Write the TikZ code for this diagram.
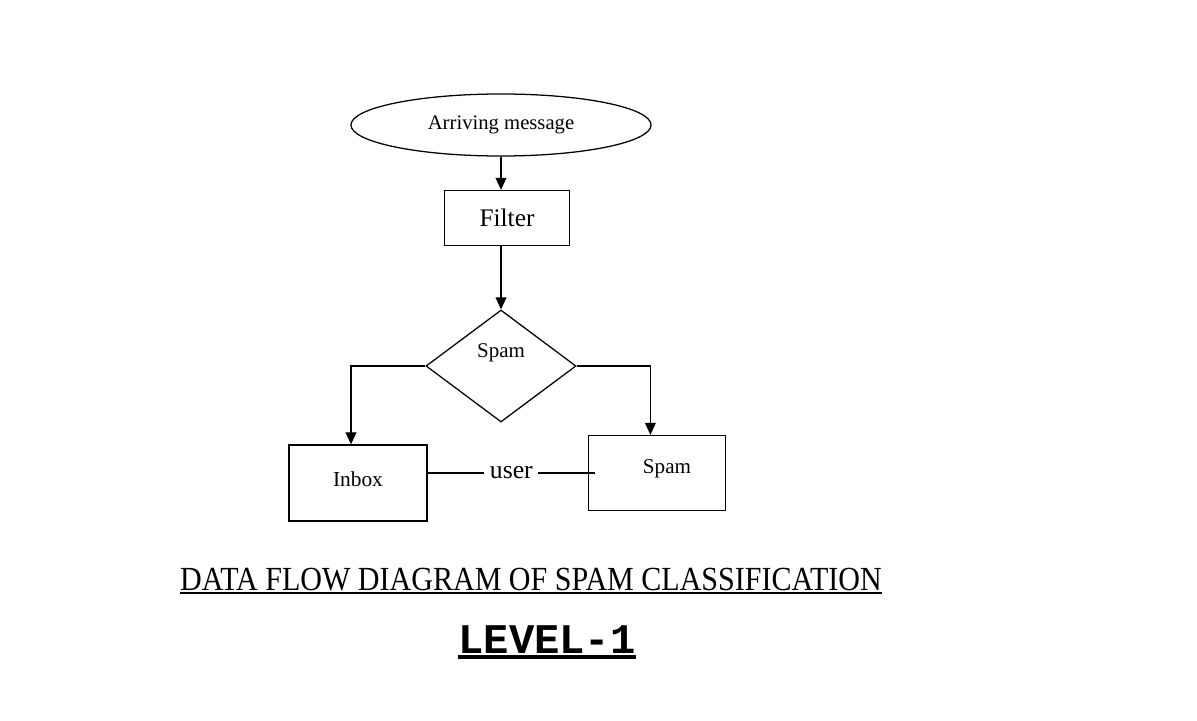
\documentclass[tikz,border=0pt]{standalone}
\usepackage{fontspec}
\setmainfont{Liberation Serif}
\newfontfamily\levelfont{Liberation Mono}
\usetikzlibrary{positioning,shapes.geometric,arrows.meta}

\begin{document}
\begin{tikzpicture}[x=0.025cm, y=-0.025cm, line width=0.9pt,
  -{Triangle[length=0.3cm,width=0.27cm]},
  box/.style={draw, rectangle, inner sep=0pt},
  msgbox/.style={draw, ellipse, minimum width=7.5cm, minimum height=1.55cm,
    font=\fontsize{14.7}{17}\selectfont},
  decbox/.style={draw, diamond, aspect=1.34, inner sep=0pt,
    minimum width=3.75cm, minimum height=2.8cm}]
  \useasboundingbox (0,0) rectangle (1197,721);
  % message and filter
  \node[msgbox] (msg) at (501,125) {Arriving message};
  \node[box, minimum width=3.125cm, minimum height=1.375cm,
    font=\fontsize{18}{21}\selectfont] (filter) at (507,218) {Filter};
  % decision
  \node[decbox, label={[yshift=0.33cm, font=\fontsize{14.9}{17}\selectfont]center:Spam}]
    (dec) at (501,366) {};
  % outputs
  \node[box, minimum width=3.45cm, minimum height=1.9cm,
    label={[yshift=0.1cm, font=\fontsize{15.2}{18}\selectfont]center:Inbox}]
    (inbox) at (358,483) {};
  \node[box, minimum width=3.425cm, minimum height=1.875cm,
    label={[xshift=0.25cm, yshift=0.1cm, font=\fontsize{15}{18}\selectfont]center:Spam}]
    (spam) at (657,473) {};
  \coordinate (u) at (510,473);

  \draw (msg.south) -- (msg.south |- filter.north);
  \draw (dec.north |- filter.south) -- (dec.north);
  \draw (dec.west) -| ([xshift=-0.175cm]inbox.north);
  \draw (dec.east) -| ([xshift=-0.165cm]spam.north);
  \draw[-] (inbox.east |- u) -- node[fill=white, inner sep=0.14cm,
    font=\fontsize{18.3}{21}\selectfont] (user) {user} ([xshift=0.18cm]spam.west |- u);

  % titles
  \node[inner sep=0pt, anchor=base, font=\fontsize{24}{28}\selectfont] (title) at (531,590)
    {\scalebox{0.89}[1]{DATA FLOW DIAGRAM OF SPAM CLASSIFICATION}};
  \draw[-, line width=1.4pt] ([yshift=-0.08cm]title.base west) -- ([yshift=-0.08cm]title.base east);
  \node[inner sep=0pt, anchor=base, font=\levelfont\bfseries\fontsize{30}{34}\selectfont]
    (level) at (547,653) {LEVEL-1};
  \draw[-, line width=2.2pt] ([yshift=-0.1cm]level.base west) -- ([yshift=-0.1cm]level.base east);
\end{tikzpicture}
\end{document}
